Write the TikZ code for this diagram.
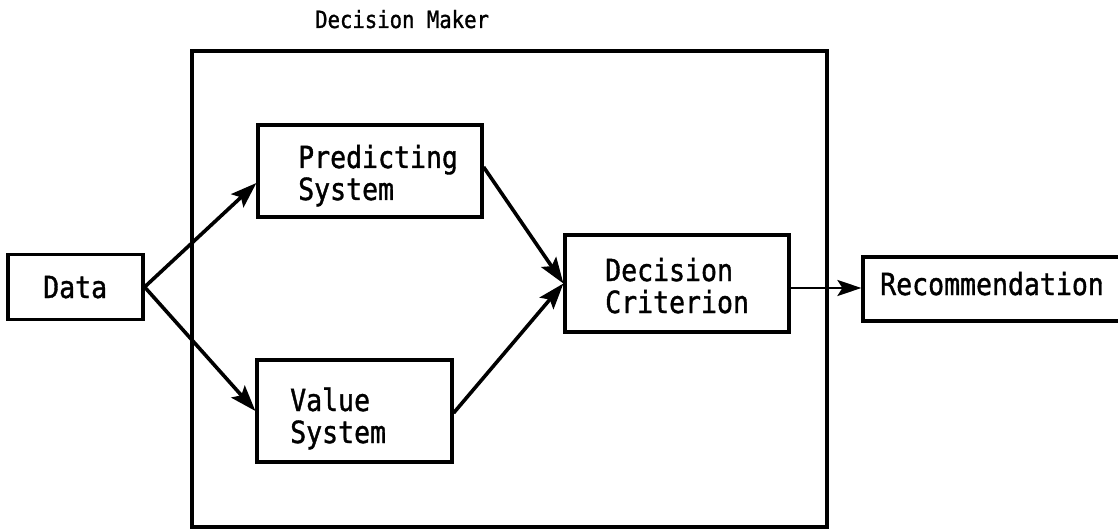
\documentclass[tikz,border=0pt]{standalone}
\usepackage{fontspec}
\newfontfamily\gothicfont[FakeStretch=0.87,FakeBold=1.2]{DejaVu Sans Mono}
\usetikzlibrary{arrows.meta,calc}
\tikzset{
  box/.style={draw, line width=3.2pt, inner sep=0pt},
  txt/.style={font=\gothicfont\fontsize{30.5}{32}\selectfont, inner sep=0pt, align=left, anchor=base west},
  conn/.style={line width=3.6pt, -{Stealth[length=26pt,width=18pt,inset=5pt]}},
  conn2/.style={line width=2.8pt, -{Stealth[length=24pt,width=16pt,inset=5pt]}}
}
\begin{document}
\begin{tikzpicture}[x=1pt,y=-1pt]
\useasboundingbox (0,0) rectangle (1118,529);
% outer decision maker box
\node[box, line width=3.2pt, minimum width=635pt, minimum height=476pt] (dm) at (509.5,289) {};
\node[font=\gothicfont\fontsize{23.7}{26}\selectfont, inner sep=0pt, anchor=base west] (dml) at (315,28) {Decision Maker};
% boxes
\node[box, minimum width=135pt, minimum height=65pt] (data) at (75.5,287) {};
\node[box, minimum width=224pt, minimum height=92pt] (pred) at (370,171) {};
\node[box, minimum width=195pt, minimum height=102pt] (val) at (354.5,411) {};
\node[box, minimum width=224pt, minimum height=97pt] (crit) at (677,283.5) {};
\node[box, minimum width=280pt, minimum height=64pt] (rec) at (1003,289) {};
% texts (anchored at the baseline of the last line)
\node[txt] (datat) at (43,298) {Data};
\node[txt] (predt) at (298,200) {Predicting\\System};
\node[txt] (valt) at (290,443) {Value\\System};
\node[txt] (critt) at (605,313) {Decision\\Criterion};
\node[txt] (rect) at (880,295) {Recommendation};
% connectors
\draw[conn] (data.east) -- ($(pred.west)+(0,12)$);
\draw[conn] (data.east) -- (val.west);
\draw[conn] ($(pred.east)+(0,-4)$) -- (crit.west);
\draw[conn] ($(val.east)+(0,2)$) -- (crit.west);
\coordinate (co) at ($(crit.east)+(0,4.5)$);
\draw[conn2] (co) -- (co -| rec.west);
\end{tikzpicture}
\end{document}
